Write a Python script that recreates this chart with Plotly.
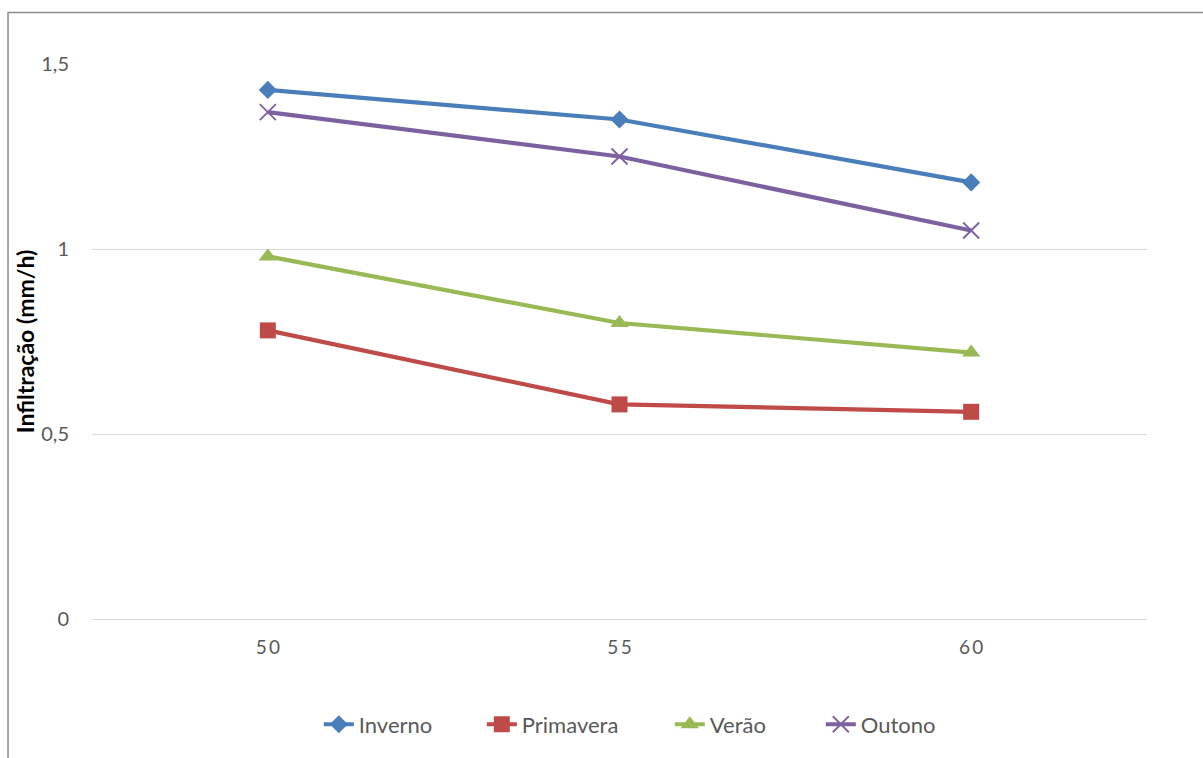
import plotly.graph_objects as go

# Infiltration rate (mm/h) by season for each slope / intensity class
categories = ["50", "55", "60"]
category_labels = ["5\u20090", "5\u20095", "6\u20090"]

inverno = [1.43, 1.35, 1.18]
primavera = [0.78, 0.58, 0.56]
verao = [0.98, 0.80, 0.72]
outono = [1.37, 1.25, 1.05]

y_ticks = [0, 0.5, 1, 1.5]

FONT = "Lato, 'Open Sans', sans-serif"

series = [
    ("Inverno", inverno, "#4a7ebb", dict(symbol="diamond", size=14), 118),
    ("Primavera", primavera, "#be4b48", dict(symbol="square", size=16), 143),
    ("Verão", verao, "#98b954", dict(symbol="triangle-up", size=16), 106),
    ("Outono", outono, "#7d60a0",
     dict(symbol="x-thin-open", size=16, line=dict(width=1.8, color="#7d60a0")), 80),
]

fig = go.Figure()
for name, vals, color, marker, lw in series:
    m = dict(color=color)
    m.update(marker)
    fig.add_trace(go.Scatter(
        x=categories, y=vals, name=name, mode="lines+markers",
        line=dict(color=color, width=4.2),
        marker=m,
        legendwidth=lw,
    ))

# outer chart border
fig.add_shape(type="rect", xref="paper", yref="paper",
              x0=-0.0796, x1=1.3, y0=-0.6, y1=1.093,
              line=dict(color="#8c8c8c", width=1.5), layer="below")

fig.update_layout(
    width=1203, height=758,
    margin=dict(l=92, r=56, t=64, b=135),
    paper_bgcolor="white", plot_bgcolor="white",
    separators=",.",
    font=dict(family=FONT, color="#595959", size=20),
    showlegend=True,
    legend=dict(orientation="h", x=0.215, xanchor="left", y=-0.19, yanchor="middle",
                font=dict(size=22, color="#595959"),
                traceorder="normal"),
    xaxis=dict(
        type="category", range=[-0.5, 2.5],
        tickmode="array", tickvals=categories, ticktext=category_labels,
        showgrid=False, showline=False, zeroline=False, ticks="",
        ticklabelstandoff=15,
        tickfont=dict(size=19, color="#595959"),
    ),
    yaxis=dict(
        range=[0, 1.5], tickvals=y_ticks,
        showgrid=True, gridcolor="#d9d9d9", gridwidth=1.3,
        zeroline=True, zerolinecolor="#d9d9d9", zerolinewidth=1.3,
        showline=False, ticks="", ticklabelstandoff=22,
        tickfont=dict(size=20, color="#595959"),
        title=dict(text="<b>Infiltração (mm/h)</b>", standoff=0,
                   font=dict(size=23, color="#000000")),
    ),
)

fig.write_html("out.html")
